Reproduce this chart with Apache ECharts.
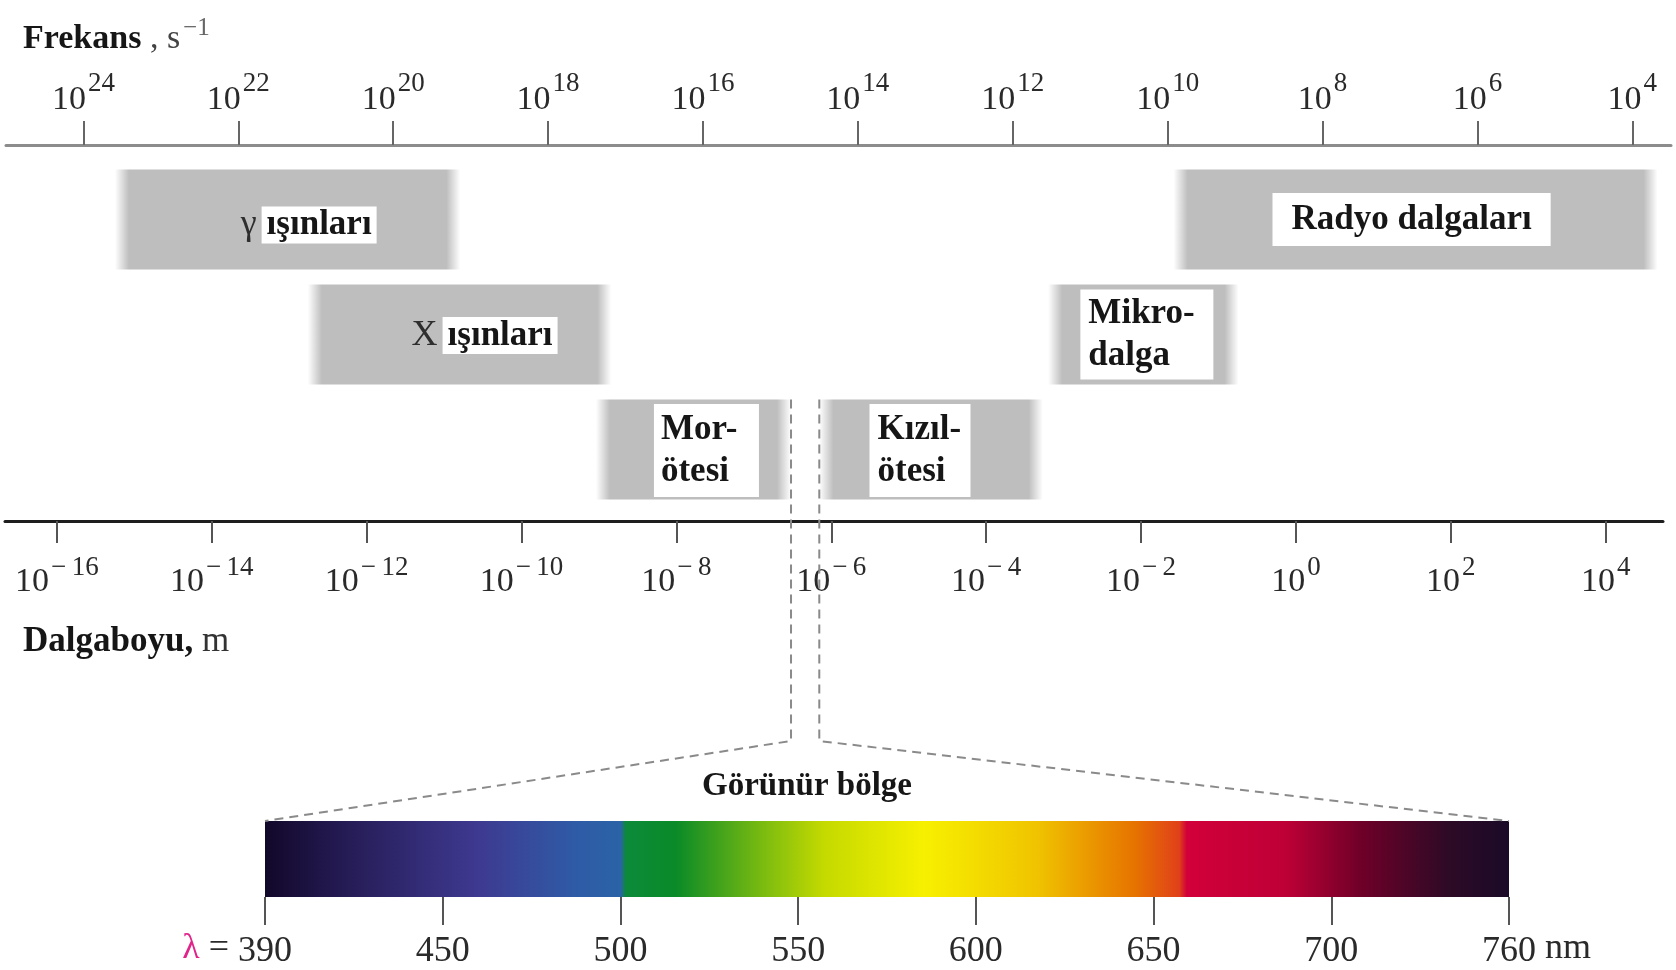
<!DOCTYPE html>
<html>
<head>
<meta charset="utf-8">
<script src="https://cdn.jsdelivr.net/npm/echarts@6/dist/echarts.min.js"></script>
<style>
  html, body { margin: 0; padding: 0; background: #fff; }
  #chart { width: 1676px; height: 970px; }
</style>
</head>
<body>
<div id="chart"></div>
<script>
// Upper scale: frequency tick exponents (10^n s^-1)
const freqTickExp = [24, 22, 20, 18, 16, 14, 12, 10, 8, 6, 4];
// Lower scale: wavelength tick exponents (10^n m)
const waveTickExp = [-16, -14, -12, -10, -8, -6, -4, -2, 0, 2, 4];

// Spectral regions; limits are log10 of the wavelength in metres
const bandNames = ['γ ışınları', 'X ışınları', 'Mor-\nötesi', 'Kızıl-\nötesi', 'Mikro-\ndalga', 'Radyo dalgaları'];
const bandStart = [-15.25, -12.76, -9.04, -6.155, -3.20, -1.58];
const bandEnd   = [-10.79, -8.84, -6.52, -3.27, -0.74, 4.67];
const bandRow   = [0, 1, 2, 2, 1, 0];

// Visible window (nm)
const visibleTicks = [390, 450, 500, 550, 600, 650, 700, 760];

// ---- styling / layout ----
const SERIF = '"Liberation Serif", "Times New Roman", "DejaVu Serif", serif';
const INK = '#161616';
const TICK_INK = '#2a2a2a';
const BAND_COLOR = '#bebebe';
const BAND_FADE_PX = 14;
const BAND_FILL = 100 / 115;
const KNEE_Y = 741;

// label box per region (offset from region centre, inner padding, line width)
const bandLabelLayout = [
  { offset: [21, 5.5], pad: [1, 5, 1, 5] },
  { offset: [25, 1],   pad: [1, 5, 1, 5] },
  { offset: [13, 1],   pad: [5, 12, 4, 7],  lineW: 86 },
  { offset: [-11, 1],  pad: [5, 8, 4, 8],   lineW: 85 },
  { offset: [3.5, 0],  pad: [3, 10, 3, 8],  lineW: 115 },
  { offset: [-4, 0],   pad: [9, 19, 9, 19] }
];

const spectrumStops = [
  { offset: 0.000, color: '#12082a' },
  { offset: 0.060, color: '#241a52' },
  { offset: 0.170, color: '#3e3990' },
  { offset: 0.250, color: '#2f5ba6' },
  { offset: 0.286, color: '#2a63a6' },
  { offset: 0.290, color: '#0d8a3a' },
  { offset: 0.330, color: '#0a8a28' },
  { offset: 0.400, color: '#7abb10' },
  { offset: 0.450, color: '#c5da00' },
  { offset: 0.530, color: '#f7f000' },
  { offset: 0.620, color: '#f0c400' },
  { offset: 0.700, color: '#e67200' },
  { offset: 0.735, color: '#e0401a' },
  { offset: 0.741, color: '#d2003a' },
  { offset: 0.820, color: '#be0036' },
  { offset: 0.880, color: '#700028' },
  { offset: 0.950, color: '#2e0a26' },
  { offset: 1.000, color: '#1a0a28' }
];

function powLabel(e) {
  const s = e < 0 ? '\u2212\u2009' + Math.abs(e) : String(e);
  return '{b|10}{s|' + s + '}';
}

function powRich(raise) {
  return {
    b: { fontFamily: SERIF, fontSize: 34, color: TICK_INK },
    s: { fontFamily: SERIF, fontSize: 27, color: TICK_INK, padding: [0, 0, raise * 2, 2] }
  };
}

// zrender text style for the white label boxes
const boxFont = { fontFamily: SERIF, fontSize: 35, fontWeight: 'bold', fill: INK };

function bandText(i) {
  const name = bandNames[i];
  const lay = bandLabelLayout[i];
  const parts = name.split(' ');
  if (parts.length > 1 && parts[0].length === 1) {
    // symbol sits on the grey, the rest inside a white box
    return {
      style: {
        text: '{p|' + parts[0] + '}{w|' + parts.slice(1).join(' ') + '}',
        fill: INK,
        rich: {
          p: { fontFamily: SERIF, fontSize: 36, fill: '#2e2e2e', padding: [0, 5, 0, 0] },
          w: Object.assign({ backgroundColor: '#fff', padding: lay.pad }, boxFont)
        }
      }
    };
  }
  const lines = name.split('\n');
  if (lines.length > 1) {
    return {
      style: {
        text: lines.map(l => '{w|' + l + '}').join('\n'),
        fill: INK,
        backgroundColor: '#fff',
        padding: lay.pad,
        rich: { w: Object.assign({ width: lay.lineW, align: 'left', lineHeight: 42 }, boxFont) }
      }
    };
  }
  return {
    style: Object.assign({ text: name, backgroundColor: '#fff', padding: lay.pad }, boxFont)
  };
}

const chart = echarts.init(document.getElementById('chart'), null, { renderer: 'canvas' });

const option = {
  animation: false,
  backgroundColor: '#fff',
  title: [
    {
      left: 18, top: 11,
      text: '{b|Frekans}{n| , s}{s|\u22121}',
      textStyle: {
        fontWeight: 'normal',
        rich: {
          b: { fontFamily: SERIF, fontSize: 34, fontWeight: 'bold', color: INK },
          n: { fontFamily: SERIF, fontSize: 34, fontWeight: 'normal', color: '#444' },
          s: { fontFamily: SERIF, fontSize: 25, fontWeight: 'normal', color: '#666', padding: [0, 0, 22, 3] }
        }
      }
    },
    {
      left: 18, top: 619,
      text: '{b|Dalgaboyu,}{n| m}',
      textStyle: {
        fontWeight: 'normal',
        rich: {
          b: { fontFamily: SERIF, fontSize: 35, fontWeight: 'bold', color: INK },
          n: { fontFamily: SERIF, fontSize: 35, fontWeight: 'normal', color: '#333' }
        }
      }
    },
    {
      left: 802, top: 765, textAlign: 'center',
      text: 'Görünür bölge',
      textStyle: { fontFamily: SERIF, fontSize: 33, fontWeight: 'bold', color: INK }
    }
  ],
  grid: [
    { left: 6, right: 5, top: 145, height: 20 },
    { left: 5, right: 13, top: 162, height: 345 },
    { left: 265, right: 167, top: 821, height: 77 }
  ],
  xAxis: [
    {
      gridIndex: 0, type: 'value', position: 'top', inverse: true, min: 3.5, max: 25,
      axisLine: { show: true, onZero: false, lineStyle: { color: '#8c8c8c', width: 3 } },
      axisTick: { show: true, customValues: freqTickExp, length: 24, lineStyle: { color: '#666', width: 2 } },
      axisLabel: { customValues: freqTickExp, formatter: powLabel, margin: 14, rich: powRich(17) },
      splitLine: { show: false }
    },
    {
      gridIndex: 1, type: 'value', position: 'bottom', offset: 14, min: -16.67, max: 4.74,
      axisLine: { show: true, onZero: false, lineStyle: { color: '#1e1e1e', width: 3 } },
      axisTick: { show: true, customValues: waveTickExp, length: 22, lineStyle: { color: '#555', width: 2 } },
      axisLabel: { customValues: waveTickExp, formatter: powLabel, margin: 33, rich: powRich(14.5) },
      splitLine: { show: false }
    },
    {
      gridIndex: 2, type: 'category', data: visibleTicks.map(String), boundaryGap: false,
      axisLine: { show: false, onZero: false },
      axisTick: { show: true, interval: 0, length: 28, lineStyle: { color: '#555', width: 2 } },
      axisLabel: { interval: 0, margin: 37, fontFamily: SERIF, fontSize: 36, color: TICK_INK },
      splitLine: { show: false }
    }
  ],
  yAxis: [
    { gridIndex: 0, type: 'value', show: false, min: 0, max: 1 },
    { gridIndex: 1, type: 'value', show: false, inverse: true, min: 0, max: 3 },
    { gridIndex: 2, type: 'value', show: false, min: 0, max: 1 }
  ],
  series: [
    {
      type: 'custom', xAxisIndex: 1, yAxisIndex: 1,
      data: bandNames.map((n, i) => [bandStart[i], bandEnd[i], bandRow[i], i]),
      encode: { x: [0, 1], y: 2 },
      renderItem: function (params, api) {
        const a = api.coord([api.value(0), api.value(2)]);
        const b = api.coord([api.value(1), api.value(2) + 1]);
        const rowH = b[1] - a[1];
        const h = rowH * BAND_FILL;
        const y0 = a[1] + (rowH - h) / 2;
        const w = b[0] - a[0];
        const f = Math.min(0.45, BAND_FADE_PX / w);
        const idx = api.value(3);
        return {
          type: 'rect',
          shape: { x: a[0], y: y0, width: w, height: h },
          style: {
            fill: new echarts.graphic.LinearGradient(0, 0, 1, 0, [
              { offset: 0, color: 'rgba(190,190,190,0)' },
              { offset: f, color: BAND_COLOR },
              { offset: 1 - f, color: BAND_COLOR },
              { offset: 1, color: 'rgba(190,190,190,0)' }
            ])
          },
          textContent: bandText(idx),
          textConfig: { position: 'inside', offset: bandLabelLayout[idx].offset, insideFill: INK }
        };
      }
    },
    {
      type: 'custom', xAxisIndex: 2, yAxisIndex: 2,
      data: [[0, visibleTicks.length - 1]],
      renderItem: function (params, api) {
        const a = api.coord([api.value(0), 1]);
        const b = api.coord([api.value(1), 0]);
        return {
          type: 'rect',
          shape: { x: a[0], y: a[1], width: b[0] - a[0], height: b[1] - a[1] },
          style: { fill: new echarts.graphic.LinearGradient(0, 0, 1, 0, spectrumStops) }
        };
      }
    }
  ]
};

chart.setOption(option);

// Dashed guides from the visible window on the wavelength scale down to the spectrum bar
const xViolet = chart.convertToPixel({ xAxisIndex: 1 }, bandEnd[2]);
const xRed = chart.convertToPixel({ xAxisIndex: 1 }, bandStart[3]);
const rowTop = chart.convertToPixel({ yAxisIndex: 1 }, 2);
const rowBot = chart.convertToPixel({ yAxisIndex: 1 }, 3);
const guideTop = rowTop + (rowBot - rowTop) * (1 - BAND_FILL) / 2;
const specLeft = chart.convertToPixel({ xAxisIndex: 2 }, 0);
const specRight = chart.convertToPixel({ xAxisIndex: 2 }, visibleTicks.length - 1);
const specTop = chart.convertToPixel({ yAxisIndex: 2 }, 1);
const specBottom = chart.convertToPixel({ yAxisIndex: 2 }, 0);
const labelY = specBottom + 52;

const dash = { stroke: '#8a8a8a', lineWidth: 2, lineDash: [9, 6], fill: null };

chart.setOption({
  graphic: [
    { type: 'polyline', z: 20, shape: { points: [[xViolet, guideTop], [xViolet, KNEE_Y], [specLeft, specTop]] }, style: dash },
    { type: 'polyline', z: 20, shape: { points: [[xRed, guideTop], [xRed, KNEE_Y], [specRight, specTop]] }, style: dash },
    {
      type: 'text', z: 20, x: specLeft - 36, y: labelY,
      style: {
        text: '{l|\u03bb} =', align: 'right', verticalAlign: 'middle',
        fontFamily: SERIF, fontSize: 36, fill: TICK_INK,
        rich: { l: { fontFamily: SERIF, fontSize: 36, fill: '#e0248a' } }
      }
    },
    {
      type: 'text', z: 20, x: specRight + 36, y: labelY,
      style: { text: 'nm', align: 'left', verticalAlign: 'middle', fontFamily: SERIF, fontSize: 36, fill: TICK_INK }
    }
  ]
});
</script>
</body>
</html>
